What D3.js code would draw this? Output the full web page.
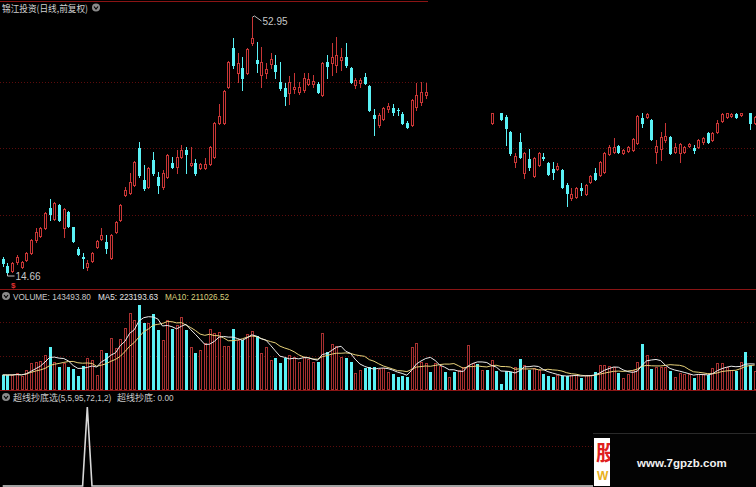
<!DOCTYPE html>
<html><head><meta charset="utf-8">
<script src="https://cdn.jsdelivr.net/npm/d3@7"></script>
<style>body{margin:0;background:#000;overflow:hidden}svg{display:block}</style>
</head><body>
<svg id="c" width="756" height="487"></svg>
<script>
// ---- DATA ----
const title = "锦江投资(日线,前复权)";
const volumeLabels = ["VOLUME: 143493.80", "MA5: 223193.63", "MA10: 211026.52"];
const indicatorLabels = [["超线抄底选", "(5,5,95,72,1,2)"], ["超线抄底", ": 0.00"]];
const highLabel = "52.95", lowLabel = "14.66";
// [open, high, low, close]; null = not visible in the picture
const candles = [
[16.74,17.04,15.70,16.15],[15.70,16.15,14.66,14.80],[14.95,16.29,14.80,16.15],[16.29,17.34,16.00,17.04],[15.55,16.44,15.40,16.29],
[16.59,17.79,16.44,17.64],[17.64,19.74,17.49,19.59],[19.59,21.38,19.29,20.78],[20.18,21.60,20.00,21.38],[21.38,23.80,21.20,23.62],
[24.37,25.72,22.58,23.48],[22.73,25.27,22.58,25.12],[24.82,25.00,22.40,22.58],[21.38,24.40,20.03,24.22],[23.77,23.90,21.50,21.68],
[21.53,21.60,19.30,19.44],[18.24,18.54,17.34,17.49],[17.05,17.64,15.40,16.95],[15.55,16.59,15.10,16.15],[16.44,17.80,16.30,17.64],
[18.54,19.59,18.39,19.44],[19.74,21.38,19.59,20.33],[19.29,20.33,17.64,18.39],[16.89,20.50,16.70,20.33],[20.78,22.50,20.60,22.28],
[22.58,25.00,22.40,24.82],[26.32,27.52,26.17,27.07],[26.62,29.61,26.50,28.26],[27.81,31.40,27.70,31.25],[33.35,34.25,29.01,29.31],
[28.56,30.80,27.07,27.37],[27.52,30.50,27.40,30.36],[31.55,32.75,29.31,29.61],[29.01,29.76,26.62,27.81],[27.52,30.06,27.22,29.61],
[29.01,32.45,28.90,32.30],[31.10,32.00,30.36,30.51],[30.51,33.05,29.61,32.00],[32.00,33.80,31.85,33.05],[33.05,33.50,29.61,32.45],
[30.80,33.50,30.66,31.10],[31.10,31.70,29.31,29.61],[30.36,31.10,30.20,30.96],[30.36,31.85,30.21,30.96],[30.96,33.65,30.81,33.50],
[32.00,37.24,31.85,37.09],[37.09,39.93,36.94,38.14],[37.09,42.03,36.94,41.88],[42.48,46.36,42.33,46.21],[48.31,49.80,45.32,45.77],
[44.57,47.56,43.22,46.07],[45.32,46.96,42.03,43.82],[44.57,48.31,44.42,48.16],[49.06,52.95,48.76,49.80],[46.51,49.21,44.72,46.07],
[44.27,48.46,42.48,46.21],[44.57,46.07,43.82,45.17],[45.92,47.56,45.32,46.66],[45.77,47.26,43.82,44.87],[43.22,46.21,42.03,42.33],
[42.33,43.07,39.78,41.13],[41.58,44.12,39.93,43.22],[42.18,44.57,41.58,42.48],[41.73,43.22,41.43,42.48],[42.03,44.57,41.73,43.82],
[42.92,44.57,42.77,43.67],[42.92,44.27,42.48,43.37],[42.92,43.22,41.58,41.73],[41.28,46.21,41.13,46.07],[46.21,47.26,43.82,45.62],
[46.07,49.06,44.27,46.96],[45.77,49.95,44.72,47.26],[46.51,48.31,45.02,46.96],[46.96,49.06,45.47,45.77],[45.32,45.47,43.07,43.22],
[42.77,43.82,42.33,43.52],[43.07,43.82,42.48,43.52],[43.97,44.57,42.92,43.07],[42.62,42.77,38.88,39.03],[38.29,39.18,35.29,37.84],
[36.79,38.59,36.49,38.29],[37.69,39.48,37.54,39.33],[39.18,40.08,38.73,39.63],[39.33,39.93,38.29,38.73],[39.05,39.33,38.29,39.00],
[38.44,38.73,36.94,37.09],[37.09,37.39,36.34,36.49],[36.79,40.68,36.64,40.53],[39.48,43.07,39.03,41.28],[40.23,43.22,39.78,41.73],
[41.28,43.07,40.83,41.73],
null,null,null,null,null,null,null,null,null,null,null,null,null,
[37.09,38.59,36.94,38.59],null,[38.59,38.59,37.54,37.69],[37.99,38.29,33.80,36.34],[35.74,35.89,32.30,32.60],
[31.25,32.60,30.51,32.15],[34.25,35.59,31.85,32.00],[29.61,32.75,28.86,32.60],[31.70,33.20,30.06,30.51],[29.16,32.00,29.01,31.85],
[30.80,32.75,30.66,32.60],[32.00,32.60,31.55,31.85],[31.10,31.25,29.31,29.46],[30.21,31.25,28.71,29.76],[30.21,31.10,30.06,30.66],
[30.06,30.21,27.37,27.52],[27.81,28.11,24.67,26.62],[25.87,27.37,25.57,26.47],[26.02,27.52,25.87,27.37],[27.37,28.11,26.32,27.07],
[26.47,27.96,26.32,27.81],[28.26,29.31,28.11,29.16],[29.61,30.36,28.56,28.71],[29.31,31.40,29.16,31.25],[29.76,32.75,29.61,32.60],
[32.45,33.80,32.30,33.50],[32.75,34.85,32.60,33.50],[33.65,33.80,32.60,32.75],[32.60,33.20,32.45,33.05],[32.90,33.65,32.75,33.50],
[33.05,34.85,32.90,34.70],[34.10,38.29,33.95,38.14],[37.84,38.59,36.49,37.09],[37.99,38.59,37.84,38.44],[37.54,37.69,34.55,34.70],
[32.75,34.55,31.10,33.65],[33.20,35.74,31.55,34.99],[34.55,37.09,34.25,35.14],[34.99,35.14,32.45,32.60],[32.75,34.10,32.60,33.50],
[32.60,34.10,31.25,33.95],[32.75,33.65,32.60,33.50],[33.65,34.10,33.50,33.95],[33.35,33.80,32.60,33.05],[33.50,34.70,33.35,34.55],
[34.25,34.99,33.95,34.85],[35.59,35.74,34.10,34.25],[34.55,35.74,34.40,35.59],[35.74,37.54,35.59,37.09],[37.39,38.59,37.24,38.44],
[37.99,38.59,37.84,38.59],[38.14,38.59,37.99,38.44],[38.44,38.59,37.84,37.99],[38.29,38.59,38.14,38.59],null,
[38.59,38.59,36.19,37.09],[37.09,38.14,36.94,37.99]
];
const volumes = [
110000,110000,110000,123000,102000,149000,206000,214000,222000,267000,
332000,214000,175000,206000,170000,154000,102000,180000,240000,227000,
110000,306000,285000,397000,319000,390000,476000,598000,541000,659000,
520000,515000,588000,463000,384000,541000,468000,502000,562000,463000,
332000,285000,306000,363000,468000,442000,450000,337000,337000,468000,
384000,384000,431000,457000,416000,285000,327000,227000,240000,206000,
240000,267000,254000,214000,254000,233000,214000,214000,437000,293000,
353000,337000,254000,240000,214000,123000,149000,162000,175000,170000,
154000,162000,136000,118000,92000,102000,92000,327000,363000,214000,
200000,136000,206000,180000,136000,97000,136000,150000,170000,345000,
200000,196000,149000,149000,227000,141000,39000,141000,136000,170000,
233000,188000,149000,162000,150000,118000,102000,92000,110000,102000,
102000,110000,110000,84000,110000,110000,136000,188000,188000,180000,
170000,128000,84000,120000,149000,214000,353000,267000,154000,170000,
170000,170000,141000,92000,128000,120000,120000,84000,120000,120000,
110000,162000,200000,206000,175000,150000,141000,214000,293000,188000,
143494];
// direction of the days whose candle is not visible ("r" up, "c" down)
const hiddenDayDir = {91:"c",92:"r",93:"r",94:"c",95:"r",96:"c",97:"r",98:"r",99:"r",100:"r",101:"c",102:"r",103:"c",105:"c",158:"c"};
const signalDays = [18];   // 超线抄底 signal = 1 on these days, else 0

// ---- LAYOUT / STYLE ----
const W = 756, H = 487;
const RED = "#c83636", VRED = "#a83030", CYAN = "#5af2f6", GRID = "#5c0c0c", SEP = "#8a1414";
const svg = d3.select("#c");
svg.append("rect").attr("width", W).attr("height", H).attr("fill", "#000");

const n = candles.length;
const x = d3.scaleBand().domain(d3.range(n)).range([0.35, 0.35 + 4.7 * n]);
const cx = i => Math.round(x(i) + x.bandwidth() / 2);
const yP = d3.scaleLinear().domain([14.66, 52.95]).range([273, 17]);
const yV = d3.scaleLinear().domain([0, 700000]).range([389, 299.7]);
const yI = d3.scaleLinear().domain([0, 1]).range([486, 407]);

// grid + separators
const g = svg.append("g");
[82, 148, 215].forEach(yy => g.append("line").attr("x1", 0).attr("x2", W).attr("y1", yy + .5).attr("y2", yy + .5)
  .attr("stroke", GRID).attr("stroke-dasharray", "1,2"));
[322, 356].forEach(yy => g.append("line").attr("x1", 0).attr("x2", W).attr("y1", yy + .5).attr("y2", yy + .5)
  .attr("stroke", GRID).attr("stroke-dasharray", "1,2"));
g.append("line").attr("x1", 0).attr("x2", W).attr("y1", 446.5).attr("y2", 446.5).attr("stroke", GRID).attr("stroke-dasharray", "1,2");
[1.5, 289.5, 390.5].forEach(yy => g.append("line").attr("x1", 0).attr("x2", W).attr("y1", yy).attr("y2", yy).attr("stroke", SEP));

// candles
const isUp = i => candles[i] ? candles[i][3] >= candles[i][0] : hiddenDayDir[i] === "r";
const cg = svg.append("g");
candles.forEach((d, i) => {
  if (!d) return;
  const [o, h, l, c] = d, px = cx(i), up = c >= o;
  const top = Math.round(yP(Math.max(o, c))), bot = Math.round(yP(Math.min(o, c)));
  const yh = Math.round(yP(h)), yl = Math.round(yP(l));
  if (up) {
    if (yh < top) cg.append("line").attr("x1", px + .5).attr("x2", px + .5).attr("y1", yh).attr("y2", top).attr("stroke", RED);
    if (yl > bot) cg.append("line").attr("x1", px + .5).attr("x2", px + .5).attr("y1", bot + 1).attr("y2", yl + 1).attr("stroke", RED);
    cg.append("rect").attr("x", px - .5).attr("y", top + .5).attr("width", 2).attr("height", Math.max(0, bot - top))
      .attr("fill", "#000").attr("stroke", RED);
  } else {
    cg.append("line").attr("x1", px + .5).attr("x2", px + .5).attr("y1", yh).attr("y2", yl + 1).attr("stroke", CYAN);
    cg.append("rect").attr("x", px - 1).attr("y", top).attr("width", 3).attr("height", Math.max(1, bot - top + 1)).attr("fill", CYAN);
  }
});

// mask (region covered in the reference)
svg.append("rect").attr("x", 428).attr("y", 0).attr("width", W - 428).attr("height", 112.5).attr("fill", "#000");

// volume bars
const vg = svg.append("g");
volumes.forEach((v, i) => {
  const px = cx(i), top = Math.round(yV(v)), base = 389;
  if (isUp(i)) vg.append("rect").attr("x", px - .5).attr("y", top + .5).attr("width", 2).attr("height", base - top).attr("fill", "#000").attr("stroke", VRED);
  else vg.append("rect").attr("x", px - 1).attr("y", top).attr("width", 3).attr("height", base - top + 1).attr("fill", CYAN);
});
const ma = k => volumes.map((v, i) => d3.mean(volumes.slice(Math.max(0, i - k + 1), i + 1)));
const vline = d3.line().x((d, i) => x(i) + x.bandwidth() / 2).y(d => yV(d)).curve(d3.curveLinear);
svg.append("path").attr("d", vline(ma(10))).attr("fill", "none").attr("stroke", "#e8d27a").attr("stroke-width", 1);
svg.append("path").attr("d", vline(ma(5))).attr("fill", "none").attr("stroke", "#ececec").attr("stroke-width", 1);

// indicator
const ind = volumes.map((v, i) => signalDays.includes(i) ? 1 : 0);
svg.append("path").attr("d", d3.line().x((d, i) => x(i) + x.bandwidth() / 2).y(d => yI(d))(ind))
  .attr("fill", "none").attr("stroke", "#d8d8d8").attr("stroke-width", 1.6);

// texts
const F = "'Noto Sans CJK SC', 'Liberation Sans', sans-serif";
const FL = "'Liberation Sans', sans-serif";
function icon(xx, yy) {
  svg.append("circle").attr("cx", xx).attr("cy", yy).attr("r", 4).attr("fill", "#8a8a8a");
  svg.append("path").attr("d", `M${xx - 2},${yy - 1}L${xx},${yy + 1.5}L${xx + 2},${yy - 1}`).attr("fill", "none").attr("stroke", "#000").attr("stroke-width", 1.2);
}
svg.append("text").attr("x", 2).attr("y", 12).attr("fill", "#d0d0d0").attr("font-family", F).attr("font-size", 9.5)
  .attr("textLength", 86).attr("lengthAdjust", "spacingAndGlyphs").text(title);
icon(96, 7.5);
icon(6, 296);
const vt = [[13, "#c8c8c8"], [98, "#e6e6e6"], [165, "#d9cf7c"]];
volumeLabels.forEach((t, k) => svg.append("text").attr("x", vt[k][0]).attr("y", 299.5).attr("fill", vt[k][1])
  .attr("font-family", FL).attr("font-size", 8.2).text(t));
icon(6, 397);
[[13, 0], [117, 1]].forEach(([xx, k]) => {
  const t = svg.append("text").attr("x", xx).attr("y", 400.5).attr("fill", "#c8c8c8");
  t.append("tspan").attr("font-family", F).attr("font-size", 9).text(indicatorLabels[k][0]);
  t.append("tspan").attr("font-family", FL).attr("font-size", 8.2).text(indicatorLabels[k][1]);
});

// high / low marks
const hi = candles.findIndex(d => d && d[1] === 52.95), lo = candles.findIndex(d => d && d[2] === 14.66);
const hx = cx(hi) + .5, hy = yP(52.95);
svg.append("path").attr("d", `M${hx},${hy}L${hx + 2},${hy - 1}L${hx + 9},${hy + 4}`).attr("fill", "none").attr("stroke", "#bbb");
svg.append("text").attr("x", hx + 10).attr("y", hy + 8).attr("fill", "#c8c8c8").attr("font-family", FL).attr("font-size", 10).text(highLabel);
const lx = cx(lo) + .5, ly = yP(14.66);
svg.append("path").attr("d", `M${lx},${ly + 1}L${lx},${ly + 3}L${lx + 7},${ly + 3}`).attr("fill", "none").attr("stroke", "#bbb");
svg.append("text").attr("x", lx + 8).attr("y", ly + 7).attr("fill", "#c8c8c8").attr("font-family", FL).attr("font-size", 10).text(lowLabel);
svg.append("text").attr("x", lx + 3.5).attr("y", ly + 15).attr("fill", "#e03030").attr("font-family", FL).attr("font-size", 8).attr("font-weight", "bold").text("$");

// watermark
svg.append("rect").attr("x", 593).attr("y", 433).attr("width", W - 593).attr("height", H - 433).attr("fill", "#030303");
svg.append("line").attr("x1", 593).attr("x2", W).attr("y1", 433.5).attr("y2", 433.5).attr("stroke", "#2a2a2a");
const defs = svg.append("defs");
defs.append("clipPath").attr("id", "wm").append("rect").attr("x", 594).attr("y", 438).attr("width", 16).attr("height", 48);
const wm = svg.append("g").attr("clip-path", "url(#wm)");
wm.append("rect").attr("x", 594).attr("y", 438).attr("width", 16).attr("height", 48).attr("fill", "#fff");
wm.append("text").attr("x", 596).attr("y", 460).attr("fill", "#e02020").attr("font-family", F).attr("font-weight", "bold").attr("font-size", 21).text("股");
wm.append("text").attr("x", 597).attr("y", 480).attr("fill", "#e8b020").attr("font-family", FL).attr("font-weight", "bold").attr("font-size", 12).text("W");
svg.append("text").attr("x", 637).attr("y", 467).attr("fill", "#f0f0f0").attr("font-family", FL).attr("font-weight", "bold").attr("font-size", 11.5).text("www.7gpzb.com");
</script>
</body></html>
